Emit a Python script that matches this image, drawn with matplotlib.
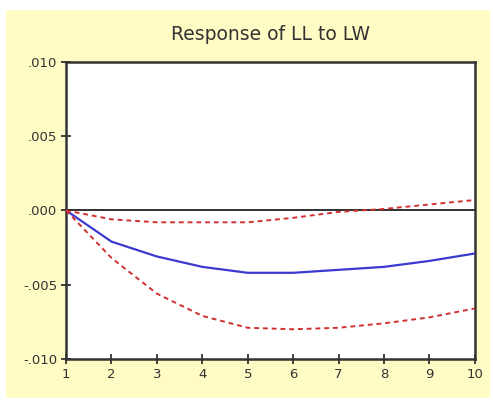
import numpy as np
import matplotlib.pyplot as plt
from matplotlib.patches import Rectangle

# periods and impulse response of LL to LW
periods = [1, 2, 3, 4, 5, 6, 7, 8, 9, 10]
response = [0.0, -0.0021, -0.0031, -0.0038, -0.0042, -0.0042, -0.0040, -0.0038, -0.0034, -0.0029]
upper = [0.0, -0.0006, -0.0008, -0.0008, -0.0008, -0.0005, -0.0001, 0.0001, 0.0004, 0.0007]
lower = [0.0, -0.0032, -0.0056, -0.0071, -0.0079, -0.0080, -0.0079, -0.0076, -0.0072, -0.0066]
yticks = [0.010, 0.005, 0.0, -0.005, -0.010]
ytick_labels = ['.010', '.005', '.000', '-.005', '-.010']

fig = plt.figure(figsize=(4.93, 4.07), dpi=100)
fig.patch.set_facecolor('white')
# yellow panel behind the chart
fig.patches.append(Rectangle((6 / 493, 1 - 398 / 407), 484 / 493, 388 / 407,
                             transform=fig.transFigure, facecolor='#fffbc4',
                             edgecolor='none', zorder=-5))

ax = fig.add_axes([0.134, 0.118, 0.829, 0.730])
ax.set_zorder(2)
ax.set_facecolor('white')

ax.axhline(0, color='#202020', linewidth=1.3, zorder=2)
ax.plot(periods, response, color='#3a3ad0', linewidth=1.6, zorder=3)
ax.plot(periods, upper, color='#d03030', linewidth=1.4, linestyle=(0, (2.5, 2)), zorder=3)
ax.plot(periods, lower, color='#d03030', linewidth=1.4, linestyle=(0, (2.5, 2)), zorder=3)

ax.set_xlim(1, 10)
ax.set_ylim(-0.010, 0.010)
ax.set_xticks(periods)
ax.set_yticks(yticks)
ax.set_yticklabels(ytick_labels)
ax.tick_params(direction='inout', length=7, width=1.3, labelsize=9.5, colors='#333333', pad=3)

for s in ax.spines.values():
    s.set_linewidth(1.8)
    s.set_color('#333333')

ax.set_title('Response of LL to LW', fontsize=13.5, color='#333333', pad=16)

fig.savefig('out.png', dpi=100)
